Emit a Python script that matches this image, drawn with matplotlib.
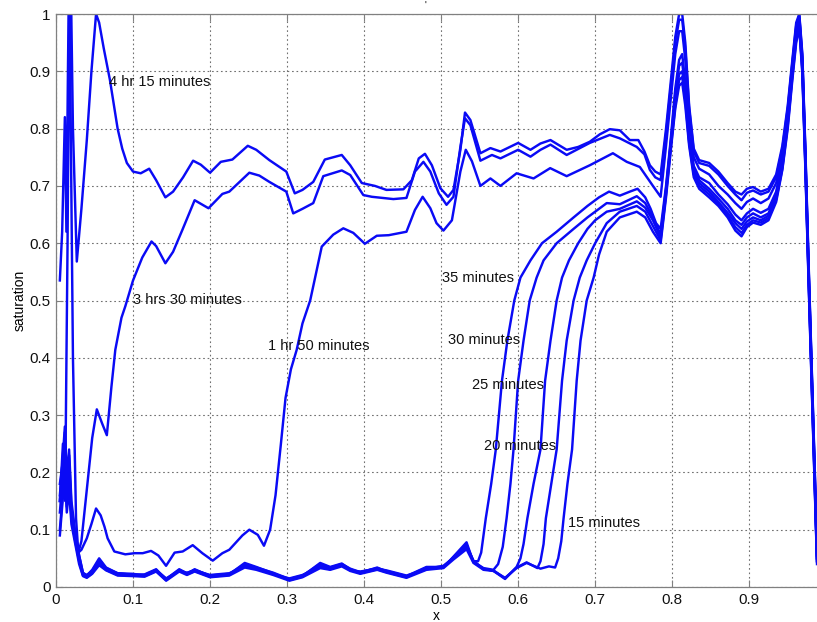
import matplotlib
matplotlib.use("Agg")
import matplotlib.pyplot as plt

plt.rcParams["font.family"] = ["Liberation Sans", "DejaVu Sans"]

# shared x grids
BASE_X = [0.005, 0.008, 0.0115, 0.014, 0.017, 0.02, 0.025, 0.03, 0.035, 0.04,
          0.047, 0.056, 0.065, 0.08, 0.1, 0.115, 0.13, 0.143, 0.16, 0.17,
          0.18, 0.2, 0.225, 0.245, 0.26, 0.282, 0.303, 0.32, 0.343, 0.356,
          0.371, 0.382, 0.395, 0.417, 0.429, 0.455, 0.481, 0.503, 0.516, 0.533,
          0.542]
TAIL_X = [0.792, 0.798, 0.804, 0.809, 0.813, 0.817, 0.822, 0.828, 0.835, 0.848,
          0.86, 0.872, 0.882, 0.89, 0.897, 0.905, 0.915, 0.925, 0.935, 0.943,
          0.95, 0.956, 0.961, 0.965, 0.969, 0.973, 0.977, 0.981, 0.985, 0.988]

# 4 hr 15 minutes
h415_x = [0.005, 0.008, 0.0115, 0.0135, 0.0155, 0.017, 0.019, 0.022, 0.027, 0.033,
          0.04, 0.046, 0.052, 0.056, 0.062, 0.07, 0.08, 0.086, 0.092, 0.1,
          0.11, 0.121, 0.13, 0.142, 0.152, 0.165, 0.178, 0.188, 0.2, 0.214,
          0.229, 0.249, 0.26, 0.277, 0.299, 0.31, 0.32, 0.334, 0.349, 0.36,
          0.371, 0.382, 0.397, 0.414, 0.429, 0.451, 0.462, 0.471, 0.479, 0.488,
          0.499, 0.509, 0.516, 0.525, 0.531, 0.538, 0.551, 0.564, 0.577, 0.600,
          0.616, 0.629, 0.642, 0.663, 0.678, 0.693, 0.706, 0.719, 0.732, 0.745,
          0.756, 0.764, 0.771, 0.778, 0.785]
h415_y = [0.535, 0.62, 0.82, 0.62, 0.9, 1.08, 1.08, 0.8, 0.568, 0.66,
          0.78, 0.9, 1.0, 0.985, 0.94, 0.885, 0.80, 0.765, 0.74, 0.725,
          0.722, 0.73, 0.71, 0.68, 0.69, 0.715, 0.744, 0.737, 0.723, 0.742,
          0.746, 0.770, 0.763, 0.745, 0.725, 0.687, 0.693, 0.707, 0.746, 0.75,
          0.754, 0.736, 0.705, 0.70, 0.693, 0.694, 0.71, 0.748, 0.756, 0.736,
          0.696, 0.681, 0.693, 0.763, 0.828, 0.815, 0.757, 0.766, 0.76, 0.775,
          0.763, 0.774, 0.78, 0.763, 0.768, 0.777, 0.79, 0.799, 0.797, 0.78,
          0.78, 0.76, 0.736, 0.725, 0.72]
h415_tail = [0.80, 0.88, 0.96, 1.0, 1.0, 0.95, 0.84, 0.765, 0.745, 0.74,
             0.725, 0.705, 0.69, 0.685, 0.695, 0.698, 0.69, 0.695, 0.72, 0.77,
             0.84, 0.92, 0.985, 1.0, 0.93, 0.76, 0.57, 0.39, 0.21, 0.06]

# 3 hrs 30 minutes
h330_x = [0.005, 0.009, 0.012, 0.015, 0.0175, 0.0195, 0.022, 0.026, 0.029, 0.033,
          0.04, 0.047, 0.053, 0.06, 0.066, 0.072, 0.077, 0.085, 0.09, 0.1,
          0.112, 0.124, 0.13, 0.142, 0.152, 0.164, 0.18, 0.198, 0.216, 0.225,
          0.251, 0.264, 0.277, 0.299, 0.308, 0.32, 0.334, 0.347, 0.371, 0.382,
          0.399, 0.41, 0.438, 0.455, 0.466, 0.477, 0.486, 0.497, 0.507, 0.516,
          0.525, 0.531, 0.538, 0.551, 0.566, 0.577, 0.600, 0.616, 0.629, 0.642,
          0.663, 0.693, 0.719, 0.732, 0.754, 0.764, 0.771, 0.778, 0.785]
h330_y = [0.15, 0.25, 0.18, 0.6, 1.08, 0.75, 0.40, 0.12, 0.06, 0.08,
          0.17, 0.26, 0.31, 0.285, 0.265, 0.35, 0.414, 0.47, 0.49, 0.535,
          0.575, 0.603, 0.595, 0.565, 0.585, 0.623, 0.675, 0.661, 0.686, 0.69,
          0.723, 0.718, 0.707, 0.69, 0.652, 0.66, 0.67, 0.717, 0.727, 0.719,
          0.684, 0.681, 0.677, 0.679, 0.725, 0.742, 0.725, 0.687, 0.667, 0.681,
          0.768, 0.818, 0.806, 0.744, 0.754, 0.748, 0.763, 0.751, 0.763, 0.772,
          0.754, 0.775, 0.789, 0.783, 0.768, 0.755, 0.728, 0.715, 0.71]
h330_tail = [0.79, 0.87, 0.95, 0.99, 0.99, 0.94, 0.835, 0.76, 0.74, 0.735,
             0.72, 0.70, 0.685, 0.675, 0.688, 0.692, 0.685, 0.69, 0.715, 0.765,
             0.835, 0.915, 0.98, 0.998, 0.925, 0.755, 0.565, 0.385, 0.205, 0.055]

# 1 hr 50 minutes
h150_x = [0.005, 0.009, 0.012, 0.015, 0.019, 0.024, 0.029, 0.033, 0.04, 0.046,
          0.052, 0.058, 0.063, 0.067, 0.0757, 0.09, 0.102, 0.1126, 0.1234, 0.1329,
          0.1429, 0.154, 0.1645, 0.1775, 0.19, 0.2035, 0.216, 0.225, 0.242, 0.251,
          0.262, 0.27, 0.278, 0.285, 0.292, 0.298, 0.305, 0.3125, 0.32, 0.33,
          0.338, 0.345, 0.36, 0.373, 0.386, 0.401, 0.4165, 0.432, 0.455, 0.466,
          0.476, 0.486, 0.494, 0.503, 0.514, 0.525, 0.532, 0.540, 0.551, 0.564,
          0.577, 0.598, 0.62, 0.6416, 0.663, 0.693, 0.723, 0.741, 0.758, 0.775,
          0.785]
h150_y = [0.18, 0.22, 0.15, 0.2, 0.14, 0.09, 0.06, 0.065, 0.085, 0.11,
          0.137, 0.125, 0.105, 0.085, 0.062, 0.057, 0.059, 0.059, 0.063, 0.055,
          0.037, 0.06, 0.062, 0.073, 0.059, 0.046, 0.059, 0.065, 0.09, 0.10,
          0.091, 0.072, 0.10, 0.16, 0.25, 0.33, 0.38, 0.414, 0.46, 0.50,
          0.55, 0.594, 0.615, 0.626, 0.618, 0.599, 0.613, 0.614, 0.62, 0.658,
          0.681, 0.661, 0.635, 0.622, 0.64, 0.725, 0.763, 0.743, 0.70, 0.713,
          0.70, 0.722, 0.713, 0.731, 0.717, 0.736, 0.757, 0.742, 0.733, 0.70,
          0.681]
h150_tail = [0.77, 0.85, 0.93, 0.97, 0.97, 0.92, 0.82, 0.75, 0.73, 0.72,
             0.70, 0.685, 0.67, 0.66, 0.672, 0.678, 0.67, 0.678, 0.705, 0.755,
             0.83, 0.91, 0.975, 0.995, 0.92, 0.75, 0.56, 0.38, 0.20, 0.055]

# 35 minutes
m35_base = [0.10, 0.15, 0.22, 0.14, 0.19, 0.12, 0.08, 0.045, 0.02, 0.017,
            0.024, 0.042, 0.03, 0.021, 0.02, 0.019, 0.028, 0.012, 0.029, 0.022,
            0.028, 0.018, 0.021, 0.038, 0.032, 0.023, 0.012, 0.018, 0.037, 0.032,
            0.038, 0.03, 0.024, 0.031, 0.026, 0.017, 0.033, 0.036, 0.05, 0.07,
            0.045]
m35_x = [0.548, 0.552, 0.558, 0.565, 0.571, 0.579, 0.586, 0.595, 0.603, 0.616,
         0.631, 0.65, 0.672, 0.69, 0.705, 0.718, 0.732, 0.745, 0.755, 0.765,
         0.772, 0.779, 0.785]
m35_y = [0.045, 0.06, 0.12, 0.18, 0.24, 0.36, 0.43, 0.50, 0.54, 0.57,
         0.60, 0.62, 0.645, 0.665, 0.68, 0.69, 0.683, 0.69, 0.695, 0.68,
         0.66, 0.635, 0.625]
m35_tail = [0.70, 0.78, 0.87, 0.92, 0.93, 0.88, 0.79, 0.735, 0.715, 0.705,
            0.685, 0.668, 0.65, 0.64, 0.652, 0.66, 0.653, 0.66, 0.69, 0.745,
            0.82, 0.905, 0.97, 0.99, 0.915, 0.745, 0.555, 0.375, 0.195, 0.05]

# 30 minutes
m30_base = [0.13, 0.18, 0.25, 0.16, 0.21, 0.13, 0.085, 0.05, 0.022, 0.019,
            0.027, 0.048, 0.032, 0.023, 0.022, 0.021, 0.03, 0.014, 0.031, 0.024,
            0.03, 0.02, 0.023, 0.04, 0.034, 0.025, 0.014, 0.02, 0.04, 0.034,
            0.04, 0.032, 0.026, 0.033, 0.028, 0.019, 0.035, 0.035, 0.052, 0.074,
            0.044]
m30_x = [0.555, 0.568, 0.574, 0.58, 0.585, 0.59, 0.594, 0.60, 0.607, 0.615,
         0.624, 0.633, 0.65, 0.672, 0.69, 0.715, 0.732, 0.754, 0.765, 0.775,
         0.785]
m30_y = [0.033, 0.03, 0.04, 0.07, 0.12, 0.18, 0.24, 0.36, 0.43, 0.50,
         0.54, 0.57, 0.60, 0.625, 0.645, 0.67, 0.668, 0.682, 0.67, 0.645,
         0.615]
m30_tail = [0.695, 0.775, 0.86, 0.91, 0.915, 0.87, 0.785, 0.73, 0.71, 0.695,
            0.678, 0.66, 0.64, 0.632, 0.645, 0.652, 0.645, 0.652, 0.685, 0.74,
            0.815, 0.90, 0.965, 0.985, 0.91, 0.74, 0.55, 0.37, 0.19, 0.05]

# 25 minutes
m25_base = [0.15, 0.2, 0.27, 0.18, 0.23, 0.14, 0.09, 0.055, 0.025, 0.02,
            0.03, 0.05, 0.034, 0.024, 0.021, 0.022, 0.031, 0.013, 0.03, 0.023,
            0.031, 0.019, 0.022, 0.042, 0.035, 0.024, 0.013, 0.019, 0.042, 0.035,
            0.041, 0.031, 0.025, 0.034, 0.027, 0.018, 0.034, 0.034, 0.053, 0.078,
            0.043]
m25_x = [0.555, 0.568, 0.583, 0.598, 0.603, 0.607, 0.612, 0.62, 0.629, 0.635,
         0.642, 0.65, 0.657, 0.666, 0.678, 0.69, 0.70, 0.715, 0.732, 0.754,
         0.765, 0.775, 0.785]
m25_y = [0.032, 0.028, 0.014, 0.035, 0.05, 0.075, 0.12, 0.18, 0.24, 0.36,
         0.43, 0.50, 0.54, 0.57, 0.60, 0.625, 0.64, 0.655, 0.66, 0.673,
         0.662, 0.64, 0.61]
m25_tail = [0.69, 0.77, 0.85, 0.895, 0.90, 0.86, 0.78, 0.725, 0.705, 0.69,
            0.672, 0.653, 0.635, 0.625, 0.638, 0.645, 0.64, 0.648, 0.68, 0.735,
            0.81, 0.895, 0.96, 0.98, 0.905, 0.735, 0.545, 0.365, 0.185, 0.045]

# 20 minutes
m20_base = [0.16, 0.21, 0.28, 0.19, 0.24, 0.15, 0.095, 0.055, 0.024, 0.021,
            0.028, 0.046, 0.033, 0.024, 0.023, 0.02, 0.029, 0.015, 0.028, 0.025,
            0.029, 0.021, 0.024, 0.036, 0.033, 0.022, 0.015, 0.021, 0.035, 0.031,
            0.039, 0.029, 0.027, 0.032, 0.029, 0.02, 0.031, 0.037, 0.051, 0.072,
            0.046]
m20_x = [0.555, 0.568, 0.583, 0.598, 0.611, 0.625, 0.629, 0.633, 0.636, 0.643,
         0.65, 0.657, 0.663, 0.672, 0.68, 0.689, 0.70, 0.715, 0.732, 0.754,
         0.765, 0.775, 0.785]
m20_y = [0.031, 0.029, 0.015, 0.034, 0.043, 0.033, 0.045, 0.075, 0.12, 0.18,
         0.24, 0.36, 0.43, 0.50, 0.54, 0.57, 0.60, 0.635, 0.655, 0.665,
         0.655, 0.63, 0.605]
m20_tail = [0.685, 0.765, 0.84, 0.885, 0.89, 0.85, 0.775, 0.72, 0.70, 0.685,
            0.668, 0.648, 0.628, 0.618, 0.632, 0.64, 0.636, 0.644, 0.676, 0.73,
            0.805, 0.89, 0.955, 0.978, 0.90, 0.73, 0.54, 0.36, 0.18, 0.045]

# 15 minutes
m15_base = [0.09, 0.14, 0.2, 0.13, 0.17, 0.11, 0.075, 0.04, 0.019, 0.016,
            0.023, 0.038, 0.029, 0.02, 0.019, 0.018, 0.027, 0.011, 0.027, 0.021,
            0.027, 0.017, 0.02, 0.034, 0.03, 0.021, 0.011, 0.017, 0.033, 0.03,
            0.036, 0.028, 0.023, 0.03, 0.025, 0.016, 0.03, 0.033, 0.048, 0.066,
            0.042]
m15_x = [0.555, 0.568, 0.583, 0.598, 0.611, 0.629, 0.64, 0.648, 0.652, 0.656,
         0.659, 0.664, 0.670, 0.676, 0.681, 0.689, 0.698, 0.705, 0.715, 0.732,
         0.754, 0.765, 0.775, 0.785]
m15_y = [0.03, 0.028, 0.016, 0.033, 0.042, 0.032, 0.036, 0.034, 0.05, 0.08,
         0.12, 0.18, 0.24, 0.36, 0.43, 0.50, 0.54, 0.58, 0.62, 0.645,
         0.655, 0.645, 0.62, 0.60]
m15_tail = [0.68, 0.76, 0.835, 0.875, 0.88, 0.84, 0.77, 0.715, 0.695, 0.68,
            0.665, 0.645, 0.622, 0.612, 0.628, 0.636, 0.632, 0.64, 0.672, 0.728,
            0.80, 0.885, 0.95, 0.975, 0.895, 0.725, 0.535, 0.355, 0.175, 0.04]

LABELS = ["4 hr 15 minutes", "3 hrs 30 minutes", "1 hr 50 minutes",
          "35 minutes", "30 minutes", "25 minutes", "20 minutes", "15 minutes"]
LABEL_X = [0.069, 0.100, 0.275, 0.501, 0.509, 0.540, 0.556, 0.665]
LABEL_Y = [0.881, 0.500, 0.421, 0.539, 0.431, 0.352, 0.246, 0.111]

XTICKS = [0, 0.1, 0.2, 0.3, 0.4, 0.5, 0.6, 0.7, 0.8, 0.9]
XTICK_LABELS = ["0", "0.1", "0.2", "0.3", "0.4", "0.5", "0.6", "0.7", "0.8", "0.9"]
YTICKS = [0, 0.1, 0.2, 0.3, 0.4, 0.5, 0.6, 0.7, 0.8, 0.9, 1.0]
YTICK_LABELS = ["0", "0.1", "0.2", "0.3", "0.4", "0.5", "0.6", "0.7", "0.8", "0.9", "1"]

curves = [
    (h415_x + TAIL_X, h415_y + h415_tail),
    (h330_x + TAIL_X, h330_y + h330_tail),
    (h150_x + TAIL_X, h150_y + h150_tail),
    (BASE_X + m35_x + TAIL_X, m35_base + m35_y + m35_tail),
    (BASE_X + m30_x + TAIL_X, m30_base + m30_y + m30_tail),
    (BASE_X + m25_x + TAIL_X, m25_base + m25_y + m25_tail),
    (BASE_X + m20_x + TAIL_X, m20_base + m20_y + m20_tail),
    (BASE_X + m15_x + TAIL_X, m15_base + m15_y + m15_tail),
]

fig = plt.figure(figsize=(8.17, 6.22), dpi=100)
ax = fig.add_axes([56 / 817, 35 / 622, 761 / 817, 573 / 622])

for xs, ys in curves:
    ax.plot(xs, ys, color="#0a0af5", linewidth=1.75, solid_joinstyle="round")

for text, lx, ly in zip(LABELS, LABEL_X, LABEL_Y):
    ax.text(lx, ly, text, fontsize=10.5, ha="left", va="center", color="#111111")

ax.set_xlim(0, 0.988)
ax.set_ylim(0, 1)
ax.set_xticks(XTICKS)
ax.set_xticklabels(XTICK_LABELS)
ax.set_yticks(YTICKS)
ax.set_yticklabels(YTICK_LABELS)
ax.tick_params(direction="in", length=5, width=0.8, color="#808080",
               labelsize=11, labelcolor="#111111", top=True, pad=4)
ax.grid(True, linestyle=(0, (1.5, 2.5)), linewidth=0.8, color="#707070")
ax.set_axisbelow(True)
for side in ["left", "bottom", "top"]:
    ax.spines[side].set_color("#808080")
    ax.spines[side].set_linewidth(0.9)
ax.spines["right"].set_visible(False)

ax.set_xlabel("x", fontsize=10, labelpad=2)
ax.set_ylabel("saturation", fontsize=10, labelpad=2)
fig.text(425 / 817, 1 - 6 / 622, "'", fontsize=7, ha="center", va="center")

fig.savefig("out.png", dpi=100)
